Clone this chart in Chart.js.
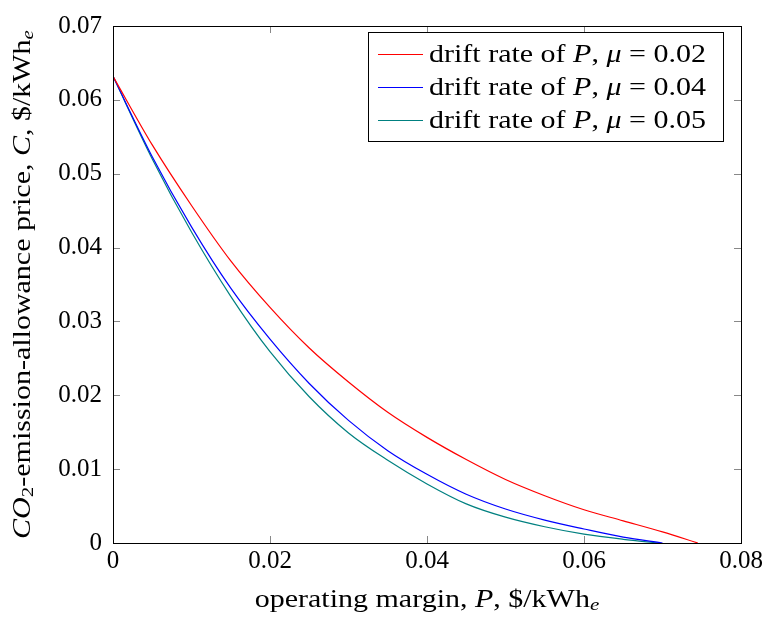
<!DOCTYPE html>
<html>
<head>
<meta charset="utf-8">
<script src="https://cdn.jsdelivr.net/npm/chart.js@4"></script>
<style>
  html, body { margin:0; padding:0; background:#fff; }
  #wrap { width:769px; height:617px; }
</style>
</head>
<body>
<div id="wrap"><canvas id="c" width="769" height="617"></canvas></div>
<script>
// values
const muValues = ["0.02", "0.04", "0.05"];
const lineColors = ["#ff0000", "#0000ff", "#008080"];

const redX  = [0, 0.005, 0.01, 0.015, 0.02, 0.025, 0.03, 0.035, 0.04, 0.045, 0.05, 0.055, 0.06, 0.065, 0.07, 0.0745];
const redY  = [0.0632, 0.0539, 0.0457, 0.0382, 0.0319, 0.0264, 0.0218, 0.0177, 0.0143, 0.0113, 0.0086, 0.0064, 0.0045, 0.0030, 0.0015, 0];
const blueX = [0, 0.005, 0.01, 0.015, 0.02, 0.025, 0.03, 0.035, 0.04, 0.045, 0.05, 0.055, 0.06, 0.065, 0.070];
const blueY = [0.0632, 0.0523, 0.0428, 0.0345, 0.0276, 0.0216, 0.0166, 0.0125, 0.0093, 0.0066, 0.0046, 0.0031, 0.0019, 0.0008, 0];
const tealX = [0, 0.005, 0.01, 0.015, 0.02, 0.025, 0.03, 0.035, 0.04, 0.045, 0.05, 0.055, 0.06, 0.065, 0.0695];
const tealY = [0.0632, 0.0520, 0.0421, 0.0334, 0.0259, 0.0198, 0.0149, 0.0112, 0.0080, 0.0053, 0.0035, 0.0022, 0.0012, 0.0005, 0];

const xTicks = [0, 0.02, 0.04, 0.06, 0.08];
const yTicks = [0, 0.01, 0.02, 0.03, 0.04, 0.05, 0.06, 0.07];

const FONT = "'Liberation Serif', serif";
const FS = 25;
const SX = 1.2; // Computer Modern is wider than Times

function pts(xs, ys) { return xs.map((x, i) => ({ x: x, y: ys[i] })); }
const seriesX = [redX, blueX, tealX];
const seriesY = [redY, blueY, tealY];

const datasets = muValues.map((mu, i) => ({
  label: "drift rate of P, \u03bc = " + mu,
  data: pts(seriesX[i], seriesY[i]),
  borderColor: lineColors[i],
  borderWidth: 1.2,
  pointRadius: 0,
  fill: false,
  cubicInterpolationMode: "monotone"
}));

// text pieces: normal / italic / subscript
function setFont(ctx, r) {
  ctx.font = (r.i ? "italic " : "") + (r.sub ? FS * 0.7 : FS) + "px " + FONT;
}
function runWidth(ctx, runs) {
  let w = 0;
  runs.forEach(r => { setFont(ctx, r); w += ctx.measureText(r.t).width; });
  return w * SX;
}
function drawRuns(ctx, runs, x, y) {
  ctx.save();
  ctx.translate(x, y);
  ctx.scale(SX, 1);
  let cx = 0;
  runs.forEach(r => {
    setFont(ctx, r);
    ctx.fillText(r.t, cx, r.sub ? 5 : 0);
    cx += ctx.measureText(r.t).width;
  });
  ctx.restore();
}

const decor = {
  id: "decor",
  afterDraw(chart) {
    const ctx = chart.ctx, a = chart.chartArea;
    const xs = chart.scales.x, ys = chart.scales.y;
    ctx.save();
    // inward ticks on all four sides
    ctx.strokeStyle = "#888";
    ctx.lineWidth = 1;
    ctx.beginPath();
    xTicks.forEach(v => {
      const px = Math.round(xs.getPixelForValue(v)) + 0.5;
      ctx.moveTo(px, a.bottom); ctx.lineTo(px, a.bottom - 7);
      ctx.moveTo(px, a.top); ctx.lineTo(px, a.top + 7);
    });
    yTicks.forEach(v => {
      const py = Math.round(ys.getPixelForValue(v)) + 0.5;
      ctx.moveTo(a.left, py); ctx.lineTo(a.left + 7, py);
      ctx.moveTo(a.right, py); ctx.lineTo(a.right - 7, py);
    });
    ctx.stroke();
    // frame
    ctx.strokeStyle = "#000";
    ctx.strokeRect(Math.round(a.left) + 0.5, Math.round(a.top) + 0.5,
                   Math.round(a.right - a.left), Math.round(a.bottom - a.top));

    ctx.fillStyle = "#000";
    ctx.textBaseline = "middle";
    ctx.textAlign = "left";
    // x title
    const xt = [{t:"operating margin, "}, {t:"P", i:true}, {t:", $/kWh"}, {t:"e", i:true, sub:true}];
    drawRuns(ctx, xt, (a.left + a.right) / 2 - runWidth(ctx, xt) / 2, 600);
    // y title (rotated)
    const yt = [{t:"CO", i:true}, {t:"2", sub:true}, {t:"-emission-allowance price, "}, {t:"C", i:true},
                {t:", $/kWh"}, {t:"e", i:true, sub:true}];
    ctx.save();
    ctx.translate(23, (a.top + a.bottom) / 2);
    ctx.rotate(-Math.PI / 2);
    drawRuns(ctx, yt, -runWidth(ctx, yt) / 2, 0);
    ctx.restore();

    // legend
    const bx = 368.5, by = 32.5, bw = 355, bh = 109;
    ctx.fillStyle = "#fff";
    ctx.fillRect(bx, by, bw, bh);
    ctx.strokeStyle = "#000";
    ctx.strokeRect(bx, by, bw, bh);
    chart.data.datasets.forEach((ds, i) => {
      const ly = 54.5 + i * 33;
      ctx.strokeStyle = ds.borderColor;
      ctx.lineWidth = 1.2;
      ctx.beginPath();
      ctx.moveTo(378, ly); ctx.lineTo(423, ly);
      ctx.stroke();
      ctx.fillStyle = "#000";
      drawRuns(ctx, [{t:"drift rate of "}, {t:"P", i:true}, {t:", "}, {t:"\u03bc", i:true},
                     {t:" = " + muValues[i]}], 429, ly + 1);
    });
    ctx.restore();
  }
};

new Chart(document.getElementById("c"), {
  type: "line",
  data: { datasets: datasets },
  options: {
    responsive: false,
    animation: false,
    devicePixelRatio: 1,
    layout: { padding: { top: 16, right: 28, left: 0, bottom: 0 } },
    plugins: { legend: { display: false }, tooltip: { enabled: false } },
    scales: {
      x: {
        type: "linear", min: 0, max: 0.08,
        afterFit: s => { s.height = 74; },
        afterBuildTicks: s => { s.ticks = xTicks.map(v => ({ value: v })); },
        grid: { display: false, drawTicks: false }, border: { display: false },
        ticks: {
          color: "#000", padding: 3, maxRotation: 0,
          font: { family: FONT, size: FS },
          callback: v => v === 0 ? "0" : v.toFixed(2)
        }
      },
      y: {
        type: "linear", min: 0, max: 0.07,
        afterFit: s => { s.width = 113; },
        afterBuildTicks: s => { s.ticks = yTicks.map(v => ({ value: v })); },
        grid: { display: false, drawTicks: false }, border: { display: false },
        ticks: {
          color: "#000", padding: 11,
          font: { family: FONT, size: FS },
          callback: v => v === 0 ? "0" : v.toFixed(2)
        }
      }
    }
  },
  plugins: [decor]
});
</script>
</body>
</html>
